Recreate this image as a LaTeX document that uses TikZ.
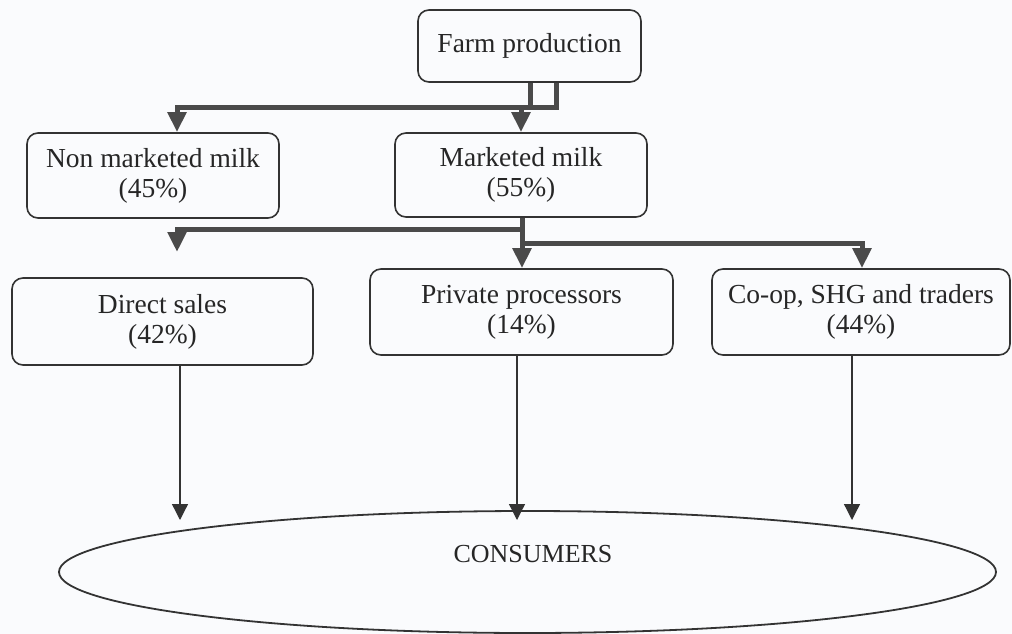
\documentclass[tikz,border=0pt]{standalone}
\usepackage{fontspec}
\setmainfont{Liberation Serif}
\usetikzlibrary{arrows.meta,shapes.geometric}
\definecolor{ink}{HTML}{333333}
\definecolor{thickc}{HTML}{4A4A4A}
\definecolor{paper}{HTML}{FAFBFD}
\begin{document}
\begin{tikzpicture}[x=1pt,y=-1pt,
  box/.style={draw=ink,line width=1.6pt,rounded corners=11pt,inner sep=0pt,
    align=center,font=\fontsize{27.5}{30}\selectfont,text=black!85},
  thickline/.style={draw=thickc,line width=5pt,line join=miter},
  thickarrow/.style={thickline,-{Triangle[width=18pt,length=20pt]}},
  thinarrow/.style={draw=ink,line width=1.3pt,-{Triangle[width=16pt,length=16pt]}},
  consumer/.style={draw=ink,line width=1.8pt,ellipse,inner sep=0pt,
    minimum width=937pt,minimum height=122pt}
]
\fill[paper] (0,0) rectangle (1012,634);
\useasboundingbox (0,0) rectangle (1012,634);

% boxes
\node[box,minimum width=223pt,minimum height=72pt] (farm) at (529.5,46) {Farm production};
\node[box,minimum width=252pt,minimum height=85pt] (nonmk) at (153,175.5) {Non marketed milk\\(45\%)};
\node[box,minimum width=252pt,minimum height=84pt] (mk) at (521,175) {Marketed milk\\(55\%)};
\node[box,minimum width=301pt,minimum height=87pt] (ds) at (162.5,321.5) {Direct sales\\(42\%)};
\node[box,minimum width=303pt,minimum height=86pt] (pp) at (521.5,312) {Private processors\\(14\%)};
\node[box,minimum width=298pt,minimum height=86pt] (coop) at (861,312) {Co-op, SHG and traders\\(44\%)};
\node[consumer] (cons) at (527.5,572) {};
\node[font=\fontsize{26}{28}\selectfont,text=black!85,inner sep=0pt] (constext) at (533,554) {CONSUMERS};

% junctions
\coordinate (j1) at (530,107);
\coordinate (j2) at (556,107);
\coordinate (a1) at (177,107);
\coordinate (b0) at (522,229);
\coordinate (b1) at (177,229);
\coordinate (b1tip) at (177,252);
\coordinate (c0) at (522,243);
\coordinate (c1) at (862,243);
\coordinate (t1) at (180,520);
\coordinate (t2) at (517,520);
\coordinate (t3) at (852,520);

% thick connectors, first level
\draw[thickline] (farm.south -| j1) -- (j1);
\draw[thickarrow] (farm.south -| j2) -- (j2) -- (a1) -- (a1 |- nonmk.north);
\draw[thickarrow] (mk.north |- j1) -- (mk.north);

% thick connectors, second level
\draw[thickarrow] (mk.south -| b0) -- (pp.north -| b0);
\draw[thickarrow] (b0) -- (b1) -- (b1tip);
\draw[thickarrow] (c0) -- (c1) -- (coop.north -| c1);

% thin arrows to consumers
\draw[thinarrow] (ds.south -| t1) -- (t1);
\draw[thinarrow] (pp.south -| t2) -- (t2);
\draw[thinarrow] (coop.south -| t3) -- (t3);
\end{tikzpicture}
\end{document}
